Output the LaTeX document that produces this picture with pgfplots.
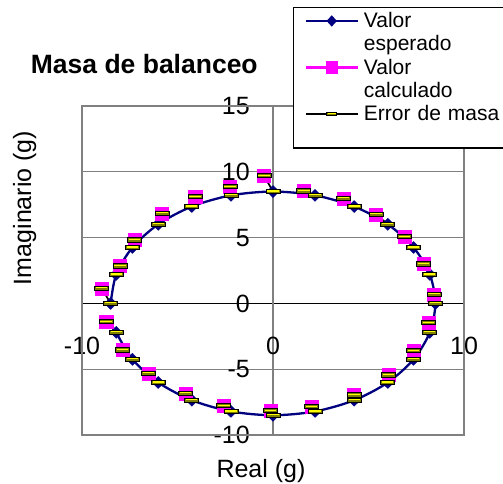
\documentclass[border=0pt]{standalone}
\usepackage{fontspec}
\setmainfont{Liberation Sans}
\usepackage{pgfplots}
\usepackage{pgfplotstable}
\pgfplotsset{compat=1.18}

\definecolor{esperado}{HTML}{000080}
\definecolor{calculado}{HTML}{FF00FF}
\definecolor{rejilla}{HTML}{808080}
\definecolor{marcaoliva}{HTML}{808000}
\definecolor{marcaamarilla}{HTML}{FFFF00}

% Excel-style "dash" marker: olive bar with black outline and a yellow stripe
\pgfdeclareplotmark{errdash}{%
  \pgfsetlinewidth{0.9pt}%
  \pgfsetstrokecolor{black}%
  \pgfsetfillcolor{marcaoliva}%
  \pgfpathrectangle{\pgfqpoint{-7pt}{-2.2pt}}{\pgfqpoint{14pt}{4.4pt}}%
  \pgfusepath{fill,stroke}%
  \pgfsetstrokecolor{marcaamarilla}%
  \pgfsetlinewidth{1.2pt}%
  \pgfpathmoveto{\pgfqpoint{-5.6pt}{0.5pt}}%
  \pgfpathlineto{\pgfqpoint{5.6pt}{0.5pt}}%
  \pgfusepath{stroke}%
}

% expected (xe,ye) and calculated (xc,yc) balancing mass, grams
\pgfplotstableread{
xe    ye    xc    yc
-8.21 -2.20 -8.74 -1.39
-7.36 -4.25 -7.87 -3.54
-6.01 -6.01 -6.51 -5.31
-4.25 -7.36 -4.59 -6.83
-2.20 -8.21 -2.57 -7.77
 0.00 -8.50 -0.12 -8.15
 2.20 -8.21  2.02 -7.85
 4.25 -7.36  4.24 -6.96
 6.01 -6.01  6.04 -5.44
 7.36 -4.25  7.35 -3.59
 8.21 -2.20  8.15 -1.46
 8.50  0.00  8.43  0.69
 8.21  2.20  7.87  2.99
 7.36  4.25  6.88  5.07
 6.01  6.01  5.39  6.77
 4.25  7.36  3.68  7.98
 2.20  8.21  1.62  8.54
 0.00  8.50 -0.47  9.71
-2.20  8.21 -2.25  8.87
-4.25  7.36 -4.08  8.11
-6.01  6.01 -5.81  6.85
-7.36  4.25 -7.24  4.82
-8.21  2.20 -8.01  2.84
-8.50  0.00 -8.97  1.15
}\masa

% mass error: one segment per measurement, calculated -> expected
\pgfplotstableread{
x y
-8.74 -1.39
-8.21 -2.20
nan nan
-7.87 -3.54
-7.36 -4.25
nan nan
-6.51 -5.31
-6.01 -6.01
nan nan
-4.59 -6.83
-4.25 -7.36
nan nan
-2.57 -7.77
-2.20 -8.21
nan nan
-0.12 -8.15
 0.00 -8.50
nan nan
 2.02 -7.85
 2.20 -8.21
nan nan
 4.24 -6.96
 4.25 -7.36
nan nan
 6.04 -5.44
 6.01 -6.01
nan nan
 7.35 -3.59
 7.36 -4.25
nan nan
 8.15 -1.46
 8.21 -2.20
nan nan
 8.43  0.69
 8.50  0.00
nan nan
 7.87  2.99
 8.21  2.20
nan nan
 6.88  5.07
 7.36  4.25
nan nan
 5.39  6.77
 6.01  6.01
nan nan
 3.68  7.98
 4.25  7.36
nan nan
 1.62  8.54
 2.20  8.21
nan nan
-0.47  9.71
 0.00  8.50
nan nan
-2.25  8.87
-2.20  8.21
nan nan
-4.08  8.11
-4.25  7.36
nan nan
-5.81  6.85
-6.01  6.01
nan nan
-7.24  4.82
-7.36  4.25
nan nan
-8.01  2.84
-8.21  2.20
nan nan
-8.97  1.15
-8.50  0.00
}\errores

\begin{document}
\begin{tikzpicture}
\useasboundingbox (0,0) rectangle (503pt,484pt);
\begin{axis}[
  at={(82pt,49pt)}, anchor=south west,
  scale only axis, width=382pt, height=329pt,
  xmin=-10, xmax=10, ymin=-10, ymax=15,
  axis lines=middle,
  axis line style={-},
  x axis line style={black, line width=1.2pt},
  y axis line style={rejilla, line width=1.5pt},
  xtick={-10,0,10}, ytick={-10,-5,0,5,10,15},
  xmajorgrids, ymajorgrids,
  grid style={rejilla, line width=1.2pt},
  tick align=outside,
  major tick length=6pt,
  x tick style={black, line width=1pt},
  y tick style={rejilla, line width=1pt},
  hide obscured x ticks=false, hide obscured y ticks=false,
  /pgf/number format/assume math mode=true,
  tick label style={font=\fontsize{25pt}{30pt}\selectfont, inner sep=0pt},
  xticklabel style={anchor=north, yshift=-27pt},
  yticklabel style={anchor=east, xshift=-17pt},
  clip=false,
  legend image code/.code={\draw[mark repeat=2, mark phase=2, #1]
    plot coordinates {(0pt,1.3pt) (26pt,1.3pt) (52pt,1.3pt)};},
  legend style={
    at={(0.5524,1.3009)}, anchor=north west,
    draw=black, line width=1.2pt, fill=white,
    inner xsep=11pt, inner ysep=3pt,
    column sep=5pt, row sep=0pt,
    font=\fontsize{21pt}{23.3pt}\selectfont,
    cells={anchor=west},
    nodes={inner xsep=0pt, inner ysep=1.95pt, text height=15pt,
           text depth=4.4pt, text width=150pt, align=left},
  },
]
% outer frame of the plot area
\draw[rejilla, line width=2pt] (rel axis cs:0,0) rectangle (rel axis cs:1,1);

\addplot[esperado, line width=2.3pt, smooth, mark=diamond*, mark size=6pt,
  mark options={xscale=1.35, fill=esperado, draw=esperado, line width=0.4pt},
  forget plot] table[x=xe, y=ye] {\masa};
\addplot[only marks, mark=square*, mark size=6.6pt,
  mark options={fill=calculado, draw=calculado, line width=0.3pt},
  forget plot] table[x=xc, y=yc] {\masa};
\addplot[black, line width=1.7pt, mark=errdash, unbounded coords=jump,
  forget plot] table {\errores};

% legend
\addlegendimage{esperado, line width=2.3pt, mark=diamond*, mark size=4pt,
  mark options={xscale=1.2, fill=esperado}}
\addlegendentry{Valor}
\addlegendimage{empty legend}
\addlegendentry{esperado}
\addlegendimage{calculado, line width=2.3pt, mark=square*, mark size=5pt,
  mark options={fill=calculado}}
\addlegendentry{Valor}
\addlegendimage{empty legend}
\addlegendentry{calculado}
\addlegendimage{black, line width=1.7pt, mark=errdash, mark options={scale=0.72}}
\addlegendentry{Error de masa}
\addlegendimage{empty legend}
\addlegendentry[text height=0pt, text depth=14pt]{}
\end{axis}

\node[anchor=base west, inner sep=0pt, font=\fontsize{26.5pt}{31pt}\selectfont\bfseries]
  at (30.7pt,410pt) {Masa de balanceo};
\node[rotate=90, anchor=base, inner sep=0pt, font=\fontsize{25pt}{30pt}\selectfont]
  at (31pt,276pt) {Imaginario (g)};
\node[anchor=base, inner sep=0pt, font=\fontsize{25pt}{30pt}\selectfont]
  at (261pt,6pt) {Real (g)};
\end{tikzpicture}
\end{document}
